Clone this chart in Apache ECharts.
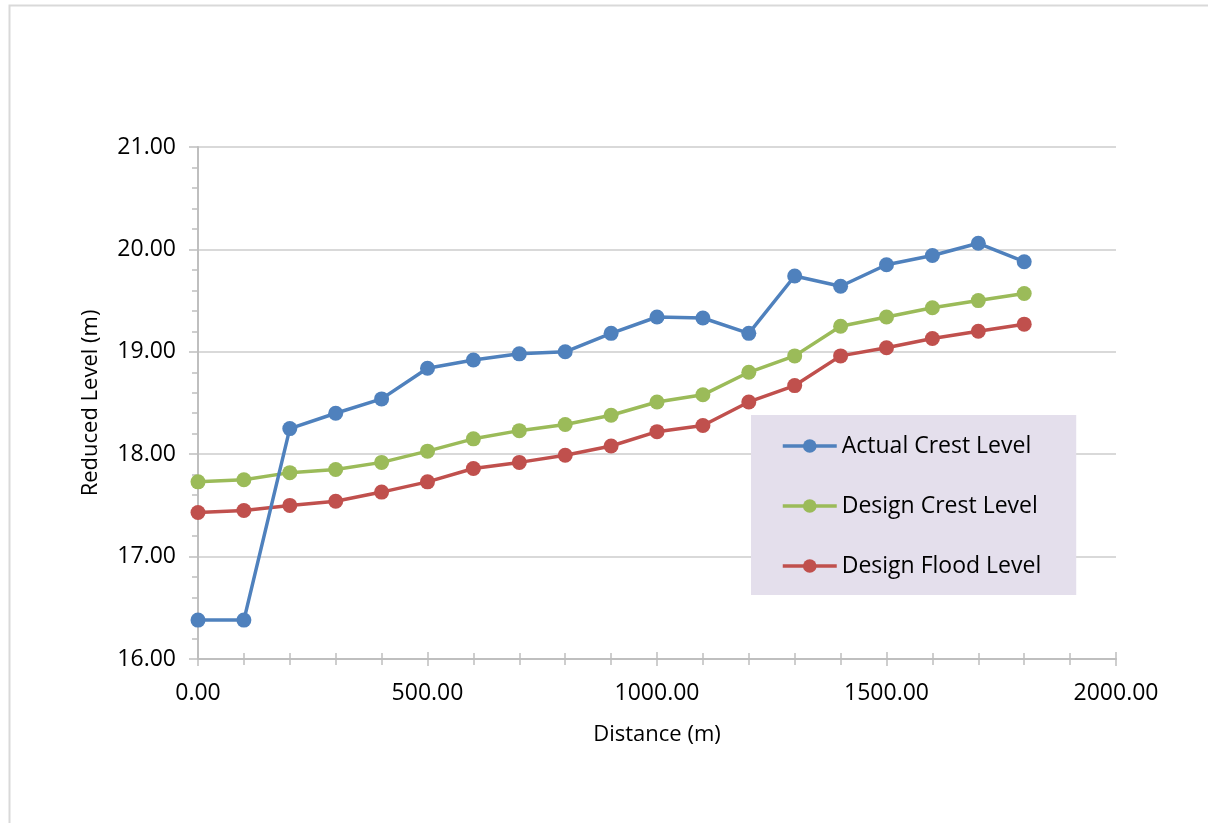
<!DOCTYPE html>
<html>
<head>
<meta charset="utf-8">
<title>Reduced Level along Distance</title>
<script src="https://cdn.jsdelivr.net/npm/echarts@6/dist/echarts.min.js"></script>
<style>
  html, body { margin: 0; padding: 0; background: #ffffff; }
  #chart { width: 1208px; height: 823px; }
</style>
</head>
<body>
<div id="chart"></div>
<script>
// Chainage along the embankment (m)
const distance = [0, 100, 200, 300, 400, 500, 600, 700, 800, 900, 1000, 1100, 1200, 1300, 1400, 1500, 1600, 1700, 1800];

// Levels (m)
const actualCrest = [16.38, 16.38, 18.25, 18.40, 18.54, 18.84, 18.92, 18.98, 19.00, 19.18, 19.34, 19.33, 19.18, 19.74, 19.64, 19.85, 19.94, 20.06, 19.88];
const designCrest = [17.73, 17.75, 17.82, 17.85, 17.92, 18.03, 18.15, 18.23, 18.29, 18.38, 18.51, 18.58, 18.80, 18.96, 19.25, 19.34, 19.43, 19.50, 19.57];
const designFlood = [17.43, 17.45, 17.50, 17.54, 17.63, 17.73, 17.86, 17.92, 17.99, 18.08, 18.22, 18.28, 18.51, 18.67, 18.96, 19.04, 19.13, 19.20, 19.27];

const seriesNames = ['Actual Crest Level', 'Design Crest Level', 'Design Flood Level'];
const seriesColors = ['#4F81BD', '#9BBB59', '#C0504D'];
const seriesValues = [actualCrest, designCrest, designFlood];

const FONT = '"Open Sans", "Noto Sans", sans-serif';
const fmt2 = v => Number(v).toFixed(2);

const chart = echarts.init(document.getElementById('chart'), null, { renderer: 'canvas' });

const series = seriesNames.map((name, i) => ({
  name: name,
  type: 'line',
  xAxisIndex: 0,
  yAxisIndex: 0,
  data: distance.map((d, k) => [d, seriesValues[i][k]]),
  symbol: 'circle',
  symbolSize: 15,
  showSymbol: true,
  lineStyle: { color: seriesColors[i], width: 3.5 },
  itemStyle: { color: seriesColors[i] },
  emphasis: { disabled: true },
  animation: false,
  z: 5 - i
}));

chart.setOption({
  backgroundColor: '#ffffff',
  animation: false,
  textStyle: { fontFamily: FONT },
  graphic: [
    {
      // frame around the chart area
      type: 'polyline',
      shape: { points: [[9.5, 823], [9.5, 5.5], [1208, 5.5]] },
      style: { stroke: '#D9D9D9', lineWidth: 2, fill: null },
      silent: true
    }
  ],
  grid: { left: 198, top: 147, right: 92, bottom: 164, containLabel: false },
  legend: {
    data: seriesNames,
    orient: 'vertical',
    left: 751,
    top: 415,
    backgroundColor: '#E4DFEC',
    padding: [16, 35, 14, 30],
    itemGap: 30,
    itemWidth: 54,
    itemHeight: 17,
    lineStyle: { width: 3.5 },
    textStyle: { fontFamily: FONT, fontSize: 23, color: '#000000', lineHeight: 30, padding: [0, 0, 0, 0] },
    selectedMode: false
  },
  xAxis: [
    {
      type: 'value',
      min: 0,
      max: 2000,
      interval: 500,
      name: 'Distance (m)',
      nameLocation: 'middle',
      nameGap: 65,
      nameTextStyle: { fontFamily: FONT, fontSize: 22, color: '#000000' },
      axisLine: { show: true, onZero: false, lineStyle: { color: '#BFBFBF', width: 2 } },
      axisTick: { show: true, length: 7, lineStyle: { color: '#BFBFBF', width: 1.5 } },
      minorTick: { show: true, splitNumber: 5, length: 6, lineStyle: { color: '#BFBFBF', width: 1.5 } },
      splitLine: { show: false },
      axisLabel: { formatter: fmt2, fontFamily: FONT, fontSize: 23, color: '#000000', margin: 23 }
    },
    {
      // second pass of the same scale: tick marks crossing above the axis line
      type: 'value',
      position: 'bottom',
      min: 0,
      max: 2000,
      interval: 500,
      axisLine: { show: false, onZero: false },
      axisTick: { show: true, inside: true, length: 7, lineStyle: { color: '#BFBFBF', width: 1.5 } },
      minorTick: { show: true, splitNumber: 5, length: 6, lineStyle: { color: '#BFBFBF', width: 1.5 } },
      splitLine: { show: false },
      axisLabel: { show: false }
    }
  ],
  yAxis: {
    type: 'value',
    min: 16,
    max: 21,
    interval: 1,
    name: 'Reduced Level (m)',
    nameLocation: 'middle',
    nameGap: 96,
    nameTextStyle: { fontFamily: FONT, fontSize: 22, color: '#000000' },
    axisLine: { show: true, onZero: false, lineStyle: { color: '#BFBFBF', width: 2 } },
    axisTick: { show: true, length: 9, lineStyle: { color: '#BFBFBF', width: 1.5 } },
    minorTick: { show: true, splitNumber: 5, length: 6, lineStyle: { color: '#BFBFBF', width: 1.5 } },
    splitLine: { show: true, lineStyle: { color: '#D9D9D9', width: 2 } },
    axisLabel: { formatter: fmt2, fontFamily: FONT, fontSize: 23, color: '#000000', margin: 22 }
  },
  series: series
});
</script>
</body>
</html>
